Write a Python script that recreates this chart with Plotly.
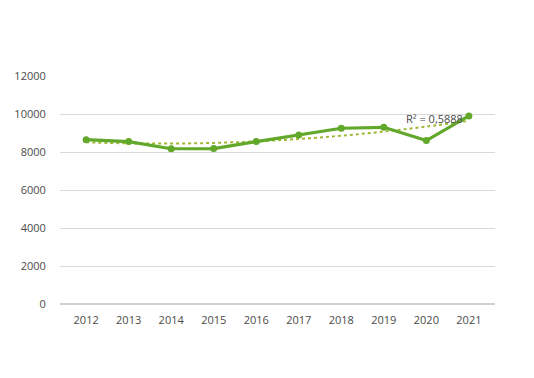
import numpy as np
import plotly.graph_objects as go

years = ["2012", "2013", "2014", "2015", "2016", "2017", "2018", "2019", "2020", "2021"]
values = [8650, 8550, 8170, 8180, 8550, 8900, 9250, 9300, 8600, 9900]
y_ticks = [0, 2000, 4000, 6000, 8000, 10000, 12000]
y_tick_text = ["0", "2000", "4000", "6000", "8000", "10000", "12000"]
r2_label = "R² = 0,5888"

# polynomial (order 2) trendline fitted to the series
idx = np.arange(len(values))
coef = np.polyfit(idx, values, 2)
trend = np.polyval(coef, idx)

fig = go.Figure()
fig.add_trace(go.Scatter(
    x=years, y=trend, mode="lines", line_shape="spline",
    line=dict(color="#9fb834", width=2, dash="dot"),
    hoverinfo="skip", showlegend=False,
))
fig.add_trace(go.Scatter(
    x=years, y=values, mode="lines+markers",
    line=dict(color="#62a82a", width=3.2),
    marker=dict(color="#62a82a", size=7),
    showlegend=False,
))
fig.add_annotation(
    x=8.2, y=9780, xref="x", yref="y", text=r2_label, showarrow=False,
    font=dict(family="Open Sans, sans-serif", size=11, color="#4a4a4a"),
    xanchor="center", yanchor="middle",
)
fig.update_layout(
    template="none",
    width=534, height=378,
    margin=dict(l=52, r=47, t=68, b=82, autoexpand=False),
    paper_bgcolor="white", plot_bgcolor="white",
    font=dict(family="Open Sans, sans-serif", size=11, color="#4a4a4a"),
)
fig.update_xaxes(
    type="category", showgrid=False, zeroline=False, showline=False,
    ticks="outside", ticklen=6, tickcolor="white", automargin=False,
)
fig.update_yaxes(
    range=[0, 12000], tickvals=y_ticks, ticktext=y_tick_text,
    showgrid=True, gridcolor="#d9d9d9",
    gridwidth=1.2, zeroline=True, zerolinecolor="#d0d0d0", zerolinewidth=1.5,
    showline=False, ticks="outside", ticklen=11, tickcolor="white", automargin=False,
)
fig.write_html("out.html")
